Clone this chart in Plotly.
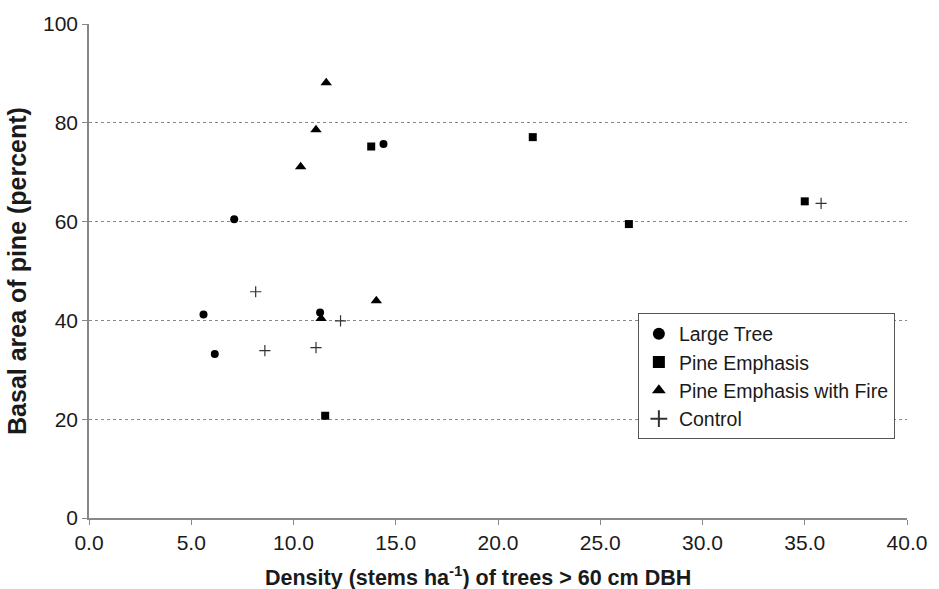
import plotly.graph_objects as go

# Data
large_tree_x = [7.1, 5.6, 6.15, 11.3, 14.4]
large_tree_y = [60.5, 41.2, 33.2, 41.6, 75.7]

pine_x = [13.8, 11.55, 21.7, 26.4, 35.0]
pine_y = [75.2, 20.7, 77.1, 59.5, 64.1]

fire_x = [11.6, 11.1, 10.35, 14.05, 11.35]
fire_y = [88.1, 78.6, 71.1, 44.0, 40.4]

control_x = [8.15, 8.6, 11.1, 12.3, 35.8]
control_y = [45.8, 33.9, 34.5, 39.9, 63.7]

x_ticks = [0, 5, 10, 15, 20, 25, 30, 35, 40]
y_ticks = [0, 20, 40, 60, 80, 100]

FONT = "Liberation Sans, Arial, sans-serif"

fig = go.Figure()
fig.add_trace(go.Scatter(x=large_tree_x, y=large_tree_y, mode="markers", name="Large Tree",
                         marker=dict(symbol="circle", size=8, color="black")))
fig.add_trace(go.Scatter(x=pine_x, y=pine_y, mode="markers", name="Pine Emphasis",
                         marker=dict(symbol="square", size=8, color="black")))
fig.add_trace(go.Scatter(x=fire_x, y=fire_y, mode="markers", name="Pine Emphasis with Fire",
                         marker=dict(symbol="triangle-up", size=10, color="black")))
fig.add_trace(go.Scatter(x=control_x, y=control_y, mode="markers", name="Control  ",
                         marker=dict(symbol="cross-thin", size=8, color="black",
                                     line=dict(width=1.2, color="#333333"))))

fig.add_annotation(text="<b>Density (stems ha<sup>-1</sup>) of trees > 60 cm DBH</b>",
                   xref="paper", yref="paper", x=0.475, y=0, yshift=-58,
                   xanchor="center", yanchor="middle", showarrow=False,
                   font=dict(size=21.5, family=FONT, color="#1a1a1a"))

fig.update_layout(
    width=939, height=589,
    margin=dict(l=89, r=26, t=20, b=71),
    paper_bgcolor="white", plot_bgcolor="white",
    font=dict(family=FONT, size=21, color="#1a1a1a"),
    showlegend=True,
    legend=dict(x=0.671, y=0.414, xanchor="left", yanchor="top",
                bordercolor="#555555", borderwidth=1, bgcolor="white",
                font=dict(size=19.5, family=FONT, color="#1a1a1a"),
                itemsizing="constant"),
    xaxis=dict(range=[0, 40], tickvals=x_ticks, ticktext=[f"{v:.1f}" for v in x_ticks],
               showgrid=False, zeroline=False, showline=True, linecolor="#888888", linewidth=1.5,
               ticks="outside", ticklen=5, tickcolor="#888888"),
    yaxis=dict(range=[0, 100], tickvals=y_ticks,
               showgrid=True, gridcolor="#888888", griddash="dot", gridwidth=1.2,
               zeroline=False, showline=True, linecolor="#888888", linewidth=1.5,
               ticks="outside", ticklen=5, tickcolor="#888888",
               title=dict(text="<b>Basal area of pine (percent)</b>", font=dict(size=25), standoff=9)),
)

fig.write_html("out.html")
